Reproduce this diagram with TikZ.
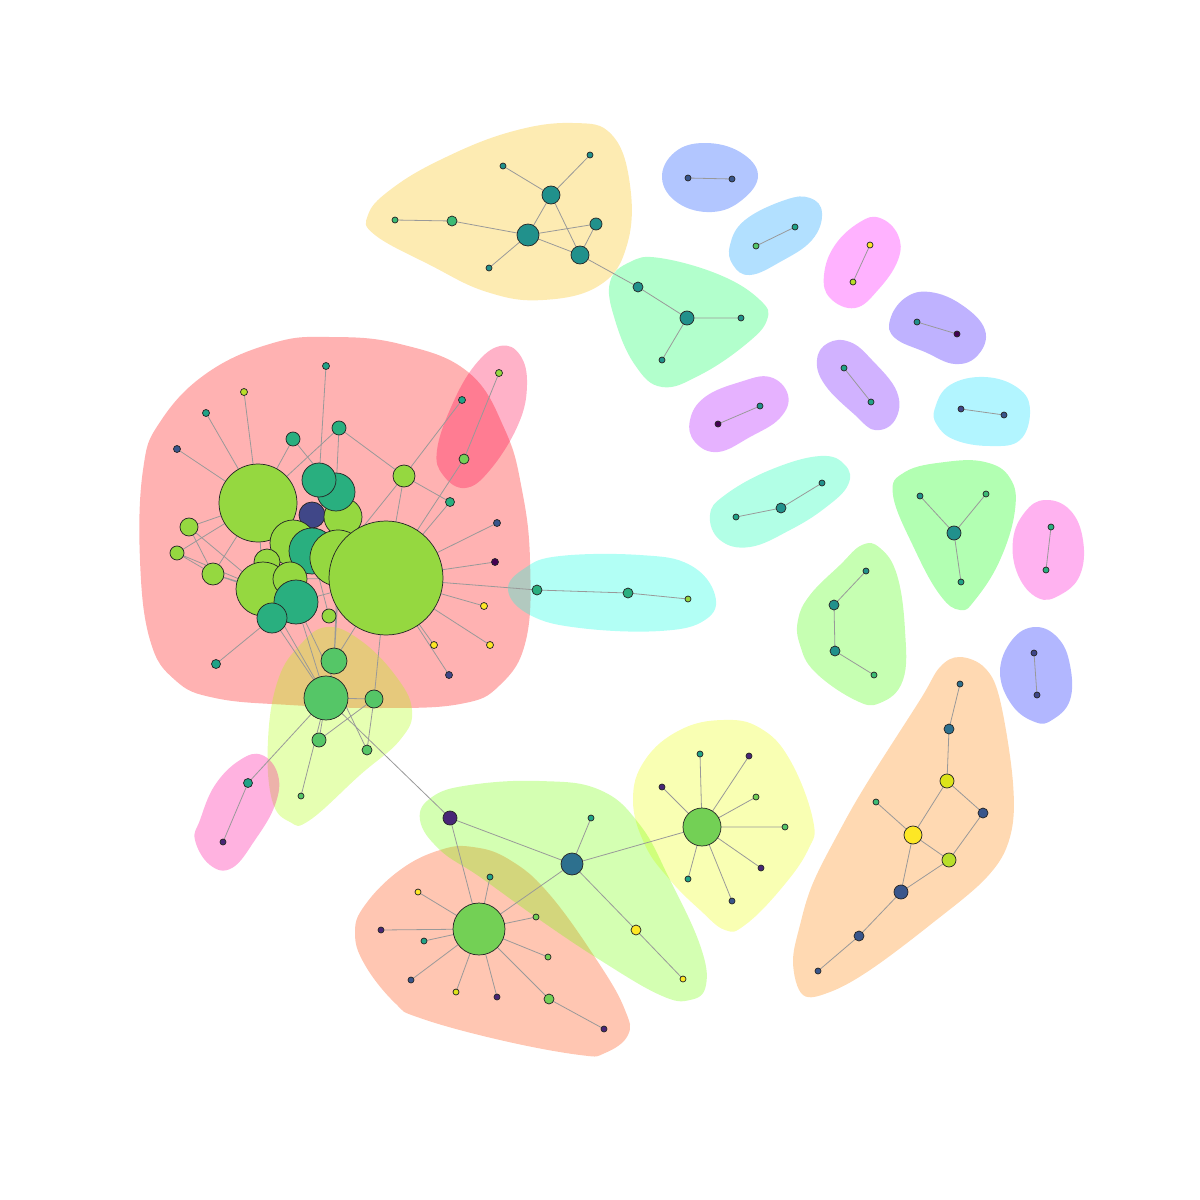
\documentclass[tikz,border=0pt]{standalone}
\usetikzlibrary{calc}
\definecolor{vlime}{HTML}{95D840}
\definecolor{vtg}{HTML}{29AF7F}
\definecolor{vtg2}{HTML}{20A387}
\definecolor{vteal}{HTML}{21918C}
\definecolor{vgreen}{HTML}{55C667}
\definecolor{vgreen2}{HTML}{3CBB75}
\definecolor{vlgreen}{HTML}{73D055}
\definecolor{vdblue}{HTML}{404788}
\definecolor{vblue}{HTML}{39568C}
\definecolor{vblue2}{HTML}{2D708E}
\definecolor{vdpurple}{HTML}{440154}
\definecolor{vpurple}{HTML}{482677}
\definecolor{vyellow}{HTML}{FDE725}
\definecolor{vyg}{HTML}{DCE319}
\definecolor{vylime}{HTML}{B8DE29}
\definecolor{hred}{RGB}{255,0,0}
\definecolor{hpink}{RGB}{255,0,72}
\definecolor{hyel}{RGB}{248,188,0}
\definecolor{hmint}{RGB}{0,255,85}
\definecolor{hblue}{RGB}{0,65,255}
\definecolor{hlblue}{RGB}{0,152,255}
\definecolor{hmag}{RGB}{255,0,255}
\definecolor{hpur}{RGB}{42,0,255}
\definecolor{hlav}{RGB}{102,0,255}
\definecolor{hvio}{RGB}{172,0,255}
\definecolor{hcyan}{RGB}{0,222,255}
\definecolor{haqua}{RGB}{0,255,172}
\definecolor{hgreen}{RGB}{0,255,0}
\definecolor{hlgreen}{RGB}{65,255,0}
\definecolor{hpinkr}{RGB}{255,0,205}
\definecolor{hperi}{RGB}{0,18,255}
\definecolor{hpeach}{RGB}{255,128,0}
\definecolor{hyellow}{RGB}{235,255,2}
\definecolor{hlime}{RGB}{112,255,0}
\definecolor{hsalmon}{RGB}{255,65,0}
\definecolor{hpale}{RGB}{172,255,0}
\definecolor{hpinkl}{RGB}{255,0,152}
\definecolor{hcyanl}{RGB}{0,255,222}
\tikzset{
  hull/.style={fill=#1, fill opacity=0.3, draw=none},
  v/.style 2 args={circle, draw=black!85, line width=0.18mm, fill=#1, minimum size=#2*0.5mm, inner sep=0pt, outer sep=0pt},
  edge/.style={draw=black!40, line width=0.2mm}
}
\begin{document}
\begin{tikzpicture}[x=0.25mm,y=-0.25mm]
\useasboundingbox (0,0) rectangle (1200,1200);
% ---------------- hulls ----------------
\fill[hull=hred] plot[smooth cycle,tension=0.7] coordinates {(143,470) (160,422) (207,373) (273,343) (330,337) (400,344) (468,372) (505,430) (522,490) (530,560) (526,640) (500,685) (460,704) (380,708) (290,705) (215,698) (175,680) (150,640) (140,560)};
\fill[hull=hpink] plot[smooth cycle,tension=0.7] coordinates {(500,346) (520,355) (527,385) (518,425) (490,470) (465,488) (443,475) (437,450) (452,405) (475,365)};
\fill[hull=hpale] plot[smooth cycle,tension=0.7] coordinates {(327,627) (360,640) (395,675) (412,710) (400,740) (360,775) (310,820) (290,822) (272,800) (268,740) (278,680) (300,645)};
\fill[hull=hcyanl] plot[smooth cycle,tension=0.7] coordinates {(508,590) (525,568) (560,556) (640,555) (690,565) (715,595) (705,620) (660,631) (580,628) (530,615)};
\fill[hull=hyel] plot[smooth cycle,tension=0.7] coordinates {(368,215) (390,190) (440,160) (510,132) (573,123) (612,135) (630,185) (627,245) (600,285) (543,300) (487,292) (430,265) (375,235)};
\fill[hull=hmint] plot[smooth cycle,tension=0.7] coordinates {(610,282) (630,262) (660,258) (720,275) (760,300) (767,320) (745,345) (700,375) (662,387) (635,365) (615,320)};
\fill[hull=hblue] plot[smooth cycle,tension=0.7] coordinates {(662,178) (675,152) (705,143) (740,152) (758,175) (742,200) (712,212) (678,203)};
\fill[hull=hlblue] plot[smooth cycle,tension=0.7] coordinates {(730,245) (745,220) (785,200) (810,198) (822,213) (812,240) (780,262) (750,275) (733,265)};
\fill[hull=hmag] plot[smooth cycle,tension=0.7] coordinates {(824,275) (835,245) (860,222) (880,218) (898,235) (898,260) (878,290) (855,308) (830,298)};
\fill[hull=hpur] plot[smooth cycle,tension=0.7] coordinates {(890,320) (905,298) (930,292) (962,305) (985,330) (978,355) (955,364) (925,352) (895,338)};
\fill[hull=hlav] plot[smooth cycle,tension=0.7] coordinates {(817,360) (828,343) (850,342) (872,360) (897,392) (895,420) (875,430) (855,415) (825,385)};
\fill[hull=hvio] plot[smooth cycle,tension=0.7] coordinates {(690,420) (705,397) (740,382) (770,377) (788,395) (780,418) (750,437) (718,452) (695,442)};
\fill[hull=hcyan] plot[smooth cycle,tension=0.7] coordinates {(935,408) (950,385) (985,377) (1018,388) (1030,410) (1020,440) (990,446) (955,440) (937,425)};
\fill[hull=haqua] plot[smooth cycle,tension=0.7] coordinates {(710,515) (725,495) (770,470) (820,456) (845,465) (848,485) (825,508) (790,530) (750,547) (720,540)};
\fill[hull=hgreen] plot[smooth cycle,tension=0.7] coordinates {(893,495) (905,472) (945,462) (985,462) (1010,478) (1015,510) (1000,560) (975,600) (960,610) (940,595) (915,550)};
\fill[hull=hpinkr] plot[smooth cycle,tension=0.7] coordinates {(1013,540) (1025,512) (1045,500) (1070,510) (1083,540) (1080,575) (1060,595) (1038,598) (1018,575)};
\fill[hull=hlgreen] plot[smooth cycle,tension=0.7] coordinates {(798,620) (810,595) (840,565) (862,545) (880,548) (897,575) (905,630) (903,680) (880,703) (855,700) (815,672) (800,645)};
\fill[hull=hperi] plot[smooth cycle,tension=0.7] coordinates {(1000,672) (1012,640) (1035,627) (1058,638) (1070,665) (1070,700) (1052,720) (1035,722) (1012,705)};
\fill[hull=hpeach] plot[smooth cycle,tension=0.6] coordinates {(960,657) (985,668) (1000,700) (1013,783) (1010,837) (987,877) (930,925) (870,970) (830,992) (803,995) (793,963) (800,925) (813,883) (840,830) (867,783) (920,700) (940,667)};
\fill[hull=hyellow] plot[smooth cycle,tension=0.7] coordinates {(723,720) (760,728) (790,760) (813,820) (808,850) (780,890) (745,925) (725,930) (700,910) (670,880) (645,845) (633,800) (645,760) (680,730)};
\fill[hull=hsalmon] plot[smooth cycle,tension=0.7] coordinates {(355,933) (365,905) (400,870) (440,850) (473,847) (510,860) (550,895) (600,965) (625,1010) (628,1035) (605,1053) (580,1055) (500,1040) (420,1018) (395,1003) (365,965)};
\fill[hull=hlime] plot[smooth cycle,tension=0.7] coordinates {(420,820) (432,797) (470,785) (540,781) (600,790) (640,825) (670,880) (700,945) (706,985) (690,1000) (660,995) (600,960) (540,920) (480,877) (440,850)};
\fill[hull=hpinkl] plot[smooth cycle,tension=0.7] coordinates {(200,820) (215,785) (240,760) (262,755) (278,775) (275,805) (255,840) (232,868) (210,865) (195,840)};
% ---------------- node positions ----------------
\begin{scope}[every node/.style={inner sep=0pt, minimum size=0pt}]
\coordinate (A) at (258,503); \coordinate (B) at (386,578);
\coordinate (C) at (319,480); \coordinate (D) at (336,492);
\coordinate (E) at (343,517); \coordinate (F) at (312,515);
\coordinate (G) at (293,543); \coordinate (H) at (312,551);
\coordinate (I) at (338,558); \coordinate (J) at (267,562);
\coordinate (K) at (263,589); \coordinate (L) at (290,579);
\coordinate (M) at (296,602); \coordinate (N) at (272,618);
\coordinate (O) at (329,616); \coordinate (P) at (189,527);
\coordinate (Q) at (177,553); \coordinate (R) at (213,574);
\coordinate (S) at (404,476); \coordinate (T) at (293,439);
\coordinate (U) at (339,428); \coordinate (V) at (450,502);
\coordinate (W) at (216,664);
\end{scope}
% ---------------- edges ----------------
\begin{scope}[edge]
% red cluster
\draw (A) -- (244,392) (A) -- (206,413) (A) -- (177,449);
\draw (A) -- (T) (A) -- (U) (A) -- (P) (A) -- (Q) (A) -- (R) (A) -- (G) (A) -- (K);
\draw (326,366) -- (C) (T) -- (D) (U) -- (D) (U) -- (S) (S) -- (V) (S) -- (B) (S) -- (I) (S) -- (462,400);
\draw (499,373) -- (464,459) -- (B) (V) -- (B);
\draw (B) -- (497,523) (B) -- (495,562) (B) -- (484,606) (B) -- (490,645) (B) -- (434,645) (B) -- (449,675);
\draw (B) -- (537,590) -- (628,593) -- (688,599);
\draw (P) -- (R) (P) -- (K) (Q) -- (R) (Q) -- (K) (R) -- (K) (R) -- (M) (W) -- (N);
\draw (G) -- (I) (H) -- (B) (L) -- (B) (M) -- (B) (J) -- (H) (K) -- (I) (O) -- (H);
% pale hull
\draw (B) -- (374,699) (B) -- (334,661) (I) -- (334,661) (E) -- (334,661);
\draw (N) -- (326,698) (M) -- (326,698) (K) -- (326,698) (M) -- (367,750);
\draw (326,698) -- (374,699) (326,698) -- (319,740) (326,698) -- (301,796) (374,699) -- (319,740) (374,699) -- (367,750);
\draw (326,698) -- (248,783) -- (223,842);
\draw (326,698) -- (450,818);
% lower lime / salmon / yellow
\draw (450,818) -- (572,864) (450,818) -- (479,929);
\draw (572,864) -- (591,818) (572,864) -- (636,930) -- (683,979) (572,864) -- (702,827) (572,864) -- (479,929);
\draw (479,929) -- (490,877) (479,929) -- (418,892) (479,929) -- (381,930) (479,929) -- (424,941) (479,929) -- (411,980) (479,929) -- (456,992) (479,929) -- (497,997) (479,929) -- (536,917) (479,929) -- (548,957) (479,929) -- (549,999) -- (604,1029);
\draw (702,827) -- (700,754) (702,827) -- (749,756) (702,827) -- (662,787) (702,827) -- (756,797) (702,827) -- (785,827) (702,827) -- (761,868) (702,827) -- (732,901) (702,827) -- (688,879);
% peach
\draw (960,684) -- (949,729) -- (947,781) -- (983,813) -- (949,860) (947,781) -- (913,835) (876,802) -- (913,835) -- (949,860) (913,835) -- (901,892) (949,860) -- (901,892) -- (859,936) -- (818,971);
% light green
\draw (866,571) -- (834,605) -- (835,651) -- (874,675);
% top yellow
\draw (503,166) -- (551,195) (590,155) -- (551,195) (551,195) -- (528,235) (551,195) -- (580,255) (395,220) -- (452,221) -- (528,235) (528,235) -- (596,224) -- (580,255) (528,235) -- (580,255) (528,235) -- (489,268) (580,255) -- (638,287);
% mint
\draw (638,287) -- (687,318) -- (741,318) (687,318) -- (662,360);
% pairs
\draw (688,178) -- (732,179) (756,246) -- (795,227) (870,245) -- (853,282) (917,322) -- (957,334) (844,368) -- (871,402) (718,424) -- (760,406) (961,409) -- (1004,415);
\draw (736,517) -- (781,508) -- (822,483);
\draw (954,533) -- (920,496) (954,533) -- (986,494) (954,533) -- (961,582);
\draw (1051,527) -- (1046,570) (1034,653) -- (1037,695);
\end{scope}
% ---------------- nodes ----------------
% red cluster
\node[v={vtg2}{3.5}] (l1) at (326,366) {};
\node[v={vylime}{3.5}] (l2) at (244,392) {};
\node[v={vtg2}{3.5}] (l3) at (206,413) {};
\node[v={vblue}{3.5}] (l4) at (177,449) {};
\node[v={vblue}{3.5}] (l5) at (497,523) {};
\node[v={vdpurple}{3.5}] (l6) at (495,562) {};
\node[v={vyellow}{3.5}] (l7) at (484,606) {};
\node[v={vyellow}{3.5}] (l8) at (490,645) {};
\node[v={vyellow}{3.5}] (l9) at (434,645) {};
\node[v={vdblue}{3.5}] (l10) at (449,675) {};
\node[v={vlime}{3.5}] (p1) at (499,373) {};
\node[v={vtg2}{3.5}] (p2) at (462,400) {};
\node[v={vlgreen}{5}] (p3) at (464,459) {};
\node[v={vtg}{7}] (nT) at (T) {};
\node[v={vtg}{7}] (nU) at (U) {};
\node[v={vtg}{4.5}] (nV) at (V) {};
\node[v={vtg2}{4.5}] (nW) at (W) {};
\node[v={vlime}{11}] (nS) at (S) {};
\node[v={vlime}{9}] (nP) at (P) {};
\node[v={vlime}{7}] (nQ) at (Q) {};
\node[v={vlime}{11}] (nR) at (R) {};
\node[v={vlime}{39}] (nA) at (A) {};
\node[v={vdblue}{13}] (nF) at (F) {};
\node[v={vlime}{19}] (nE) at (E) {};
\node[v={vtg}{19}] (nD) at (D) {};
\node[v={vtg}{17}] (nC) at (C) {};
\node[v={vlime}{23}] (nG) at (G) {};
\node[v={vtg}{23}] (nH) at (H) {};
\node[v={vlime}{28}] (nI) at (I) {};
\node[v={vlime}{57}] (nB) at (B) {};
\node[v={vlime}{13}] (nJ) at (J) {};
\node[v={vlime}{27}] (nK) at (K) {};
\node[v={vlime}{17}] (nL) at (L) {};
\node[v={vtg}{22}] (nM) at (M) {};
\node[v={vtg}{15}] (nN) at (N) {};
\node[v={vlime}{7}] (nO) at (O) {};
% pale hull
\node[v={vgreen}{13}] (x1) at (334,661) {};
\node[v={vgreen}{22}] (x2) at (326,698) {};
\node[v={vgreen}{9}] (x3) at (374,699) {};
\node[v={vgreen}{7}] (x4) at (319,740) {};
\node[v={vgreen}{5}] (x5) at (367,750) {};
\node[v={vgreen}{3}] (x6) at (301,796) {};
\node[v={vtg2}{4.5}] (pl1) at (248,783) {};
\node[v={vpurple}{3}] (pl2) at (223,842) {};
% cyan long
\node[v={vtg}{5}] (c1) at (537,590) {};
\node[v={vtg}{5}] (c2) at (628,593) {};
\node[v={vlime}{3}] (c3) at (688,599) {};
% lime / salmon / yellow
\node[v={vpurple}{7}] (q1) at (450,818) {};
\node[v={vblue2}{11}] (q2) at (572,864) {};
\node[v={vtg2}{3}] (q3) at (591,818) {};
\node[v={vyellow}{5}] (q4) at (636,930) {};
\node[v={vyellow}{3}] (q5) at (683,979) {};
\node[v={vlgreen}{26}] (s0) at (479,929) {};
\node[v={vtg2}{3}] (s1) at (490,877) {};
\node[v={vyellow}{3}] (s2) at (418,892) {};
\node[v={vpurple}{3}] (s3) at (381,930) {};
\node[v={vtg2}{3}] (s4) at (424,941) {};
\node[v={vblue}{3}] (s5) at (411,980) {};
\node[v={vyg}{3}] (s6) at (456,992) {};
\node[v={vpurple}{3}] (s7) at (497,997) {};
\node[v={vlgreen}{3}] (s8) at (536,917) {};
\node[v={vlgreen}{3}] (s9) at (548,957) {};
\node[v={vlgreen}{5}] (s10) at (549,999) {};
\node[v={vpurple}{3}] (s11) at (604,1029) {};
\node[v={vlgreen}{19}] (y0) at (702,827) {};
\node[v={vtg2}{3}] (y1) at (700,754) {};
\node[v={vpurple}{3}] (y2) at (749,756) {};
\node[v={vpurple}{3}] (y3) at (662,787) {};
\node[v={vlgreen}{3}] (y4) at (756,797) {};
\node[v={vgreen}{3}] (y5) at (785,827) {};
\node[v={vpurple}{3}] (y6) at (761,868) {};
\node[v={vblue}{3}] (y7) at (732,901) {};
\node[v={vtg2}{3}] (y8) at (688,879) {};
% peach
\node[v={vblue2}{3}] (o1) at (960,684) {};
\node[v={vblue2}{5}] (o2) at (949,729) {};
\node[v={vyg}{7}] (o3) at (947,781) {};
\node[v={vblue}{5}] (o4) at (983,813) {};
\node[v={vgreen2}{3}] (o5) at (876,802) {};
\node[v={vyellow}{9}] (o6) at (913,835) {};
\node[v={vylime}{7}] (o7) at (949,860) {};
\node[v={vblue}{7}] (o8) at (901,892) {};
\node[v={vblue}{5}] (o9) at (859,936) {};
\node[v={vblue}{3}] (o10) at (818,971) {};
% light green
\node[v={vteal}{3}] (g1) at (866,571) {};
\node[v={vteal}{5}] (g2) at (834,605) {};
\node[v={vteal}{5}] (g3) at (835,651) {};
\node[v={vgreen2}{3}] (g4) at (874,675) {};
% top yellow
\node[v={vteal}{3}] (t1) at (503,166) {};
\node[v={vteal}{3}] (t2) at (590,155) {};
\node[v={vteal}{9}] (t3) at (551,195) {};
\node[v={vgreen2}{3}] (t4) at (395,220) {};
\node[v={vgreen2}{5}] (t5) at (452,221) {};
\node[v={vteal}{11}] (t6) at (528,235) {};
\node[v={vteal}{6}] (t7) at (596,224) {};
\node[v={vteal}{9}] (t8) at (580,255) {};
\node[v={vteal}{3}] (t9) at (489,268) {};
% mint
\node[v={vteal}{5}] (m1) at (638,287) {};
\node[v={vteal}{7}] (m2) at (687,318) {};
\node[v={vteal}{3}] (m3) at (741,318) {};
\node[v={vteal}{3}] (m4) at (662,360) {};
% pairs
\node[v={vblue}{3}] (b1) at (688,178) {};
\node[v={vblue}{3}] (b2) at (732,179) {};
\node[v={vgreen}{3}] (lb1) at (756,246) {};
\node[v={vtg2}{3}] (lb2) at (795,227) {};
\node[v={vyellow}{3}] (mg1) at (870,245) {};
\node[v={vylime}{3}] (mg2) at (853,282) {};
\node[v={vteal}{3}] (pu1) at (917,322) {};
\node[v={vdpurple}{3}] (pu2) at (957,334) {};
\node[v={vtg2}{3}] (la1) at (844,368) {};
\node[v={vtg2}{3}] (la2) at (871,402) {};
\node[v={vdpurple}{3}] (vi1) at (718,424) {};
\node[v={vteal}{3}] (vi2) at (760,406) {};
\node[v={vdblue}{3}] (cy1) at (961,409) {};
\node[v={vblue}{3}] (cy2) at (1004,415) {};
\node[v={vtg2}{3}] (aq1) at (736,517) {};
\node[v={vteal}{5}] (aq2) at (781,508) {};
\node[v={vteal}{3}] (aq3) at (822,483) {};
\node[v={vteal}{7}] (gr0) at (954,533) {};
\node[v={vteal}{3}] (gr1) at (920,496) {};
\node[v={vgreen2}{3}] (gr2) at (986,494) {};
\node[v={vtg2}{3}] (gr3) at (961,582) {};
\node[v={vtg}{3}] (pr1) at (1051,527) {};
\node[v={vtg}{3}] (pr2) at (1046,570) {};
\node[v={vdblue}{3}] (pe1) at (1034,653) {};
\node[v={vdblue}{3}] (pe2) at (1037,695) {};
\end{tikzpicture}
\end{document}
